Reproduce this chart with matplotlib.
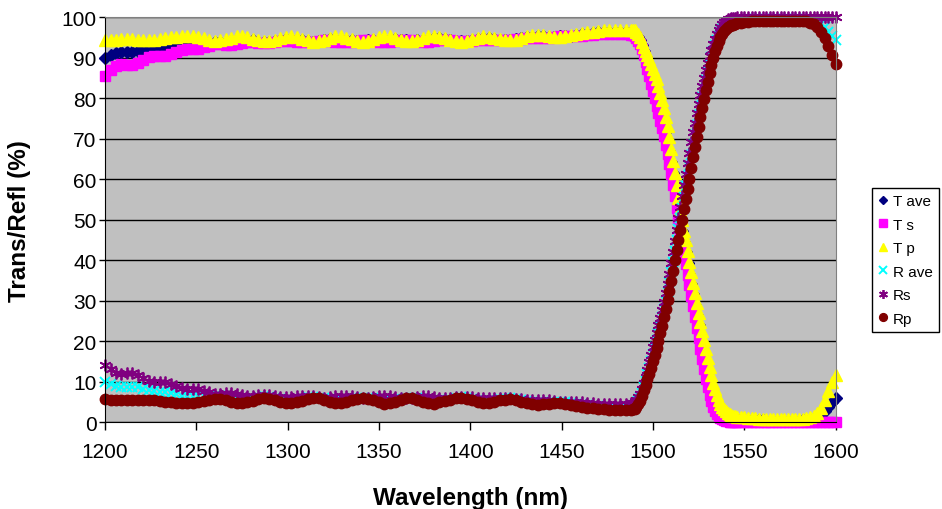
import numpy as np
import matplotlib
matplotlib.use("Agg")
import matplotlib.pyplot as plt

plt.rcParams['font.family'] = ['Liberation Sans', 'DejaVu Sans']

# wavelength grid (nm): coarse on the flat parts, 1 nm through the edge
wavelength = np.concatenate([np.arange(1200, 1489, 3),
                             np.arange(1489, 1547),
                             np.arange(1548, 1601, 2)])

t_ave = [90.0, 90.7, 91.3, 91.5, 91.5, 91.5, 91.6, 91.9, 92.3, 92.5,
         92.6, 92.7, 93.0, 93.4, 93.7, 93.8, 93.8, 93.7, 93.7, 93.7,
         93.8, 93.8, 93.9, 94.1, 94.4, 94.5, 94.5, 94.3, 94.0, 93.9,
         94.0, 94.2, 94.5, 94.7, 94.7, 94.5, 94.3, 94.1, 94.0, 94.2,
         94.4, 94.6, 94.7, 94.6, 94.4, 94.3, 94.2, 94.2, 94.3, 94.4,
         94.5, 94.7, 94.7, 94.6, 94.4, 94.3, 94.2, 94.3, 94.5, 94.7,
         94.8, 94.8, 94.7, 94.4, 94.2, 94.1, 94.2, 94.4, 94.7, 94.9,
         94.9, 94.7, 94.5, 94.4, 94.4, 94.6, 94.8, 95.1, 95.2, 95.3,
         95.3, 95.2, 95.2, 95.3, 95.4, 95.5, 95.7, 95.9, 96.0, 96.1,
         96.3, 96.4, 96.4, 96.5, 96.4, 96.4, 96.3,
         96.3, 96.1, 95.7, 95.1, 94.3, 93.1, 91.7, 90.3, 89.0, 87.7,
         86.1, 84.6, 83.0, 81.5, 79.7, 78.0, 76.1, 74.1, 72.0, 69.7,
         67.1, 64.4, 61.6, 58.7, 55.8, 52.8, 50.0, 47.3, 44.6, 42.0,
         39.4, 36.7, 34.1, 31.6, 29.0, 26.5, 24.0, 21.5, 19.1, 16.7,
         14.4, 12.3, 10.2, 8.4, 6.9, 5.6, 4.5, 3.6, 2.8, 2.3,
         1.9, 1.5, 1.3, 1.1, 1.0, 0.8, 0.8, 0.7,
         0.7, 0.6, 0.6, 0.5, 0.5, 0.5, 0.5, 0.4, 0.4, 0.4,
         0.4, 0.4, 0.4, 0.4, 0.4, 0.4, 0.4, 0.5, 0.5, 0.6,
         0.8, 1.1, 1.8, 2.8, 3.9, 5.0, 5.9]

t_s = [85.6, 87.0, 88.0, 88.4, 88.3, 88.3, 88.7, 89.4, 90.1, 90.5,
       90.5, 90.5, 90.9, 91.5, 92.0, 92.3, 92.3, 92.3, 92.6, 93.0,
       93.3, 93.3, 93.2, 93.2, 93.4, 93.7, 93.9, 93.9, 93.7, 93.6,
       93.7, 93.9, 94.1, 94.2, 94.1, 93.9, 93.8, 93.8, 94.0, 94.2,
       94.3, 94.2, 94.0, 93.8, 93.8, 94.0, 94.2, 94.3, 94.3, 94.1,
       93.9, 93.9, 94.0, 94.2, 94.4, 94.4, 94.3, 94.1, 94.0, 94.0,
       94.2, 94.4, 94.5, 94.4, 94.2, 94.1, 94.1, 94.2, 94.4, 94.5,
       94.5, 94.4, 94.3, 94.3, 94.4, 94.6, 94.7, 94.8, 94.8, 94.8,
       94.9, 95.0, 95.2, 95.3, 95.3, 95.3, 95.4, 95.5, 95.6, 95.7,
       95.8, 95.9, 95.9, 96.0, 95.9, 95.8, 95.7,
       95.6, 95.3, 94.8, 94.2, 93.4, 92.2, 90.7, 89.0, 87.3, 85.5,
       83.6, 81.8, 80.0, 78.2, 76.3, 74.5, 72.6, 70.6, 68.5, 66.2,
       63.8, 61.2, 58.6, 55.8, 53.0, 50.2, 47.4, 44.6, 41.8, 39.1,
       36.4, 33.8, 31.2, 28.6, 26.0, 23.4, 20.8, 18.2, 15.6, 13.1,
       10.8, 8.7, 6.8, 5.2, 3.9, 2.9, 2.1, 1.5, 1.0, 0.7,
       0.5, 0.3, 0.2, 0.1, 0.1, 0.0, 0.0, 0.0,
       0.0, 0.0, 0.0, 0.0, 0.0, 0.0, 0.0, 0.0, 0.0, 0.0,
       0.0, 0.0, 0.0, 0.0, 0.0, 0.0, 0.0, 0.0, 0.0, 0.0,
       0.0, 0.0, 0.0, 0.0, 0.0, 0.0, 0.0]

t_p = [94.3, 94.4, 94.5, 94.6, 94.6, 94.6, 94.5, 94.4, 94.4, 94.5,
       94.7, 94.9, 95.1, 95.2, 95.3, 95.3, 95.3, 95.1, 94.8, 94.4,
       94.2, 94.3, 94.6, 95.0, 95.3, 95.3, 95.1, 94.7, 94.3, 94.1,
       94.2, 94.5, 94.9, 95.2, 95.3, 95.1, 94.7, 94.3, 94.0, 94.1,
       94.4, 94.9, 95.3, 95.3, 95.0, 94.6, 94.2, 94.0, 94.2, 94.6,
       95.1, 95.4, 95.3, 94.9, 94.4, 94.1, 94.1, 94.5, 94.9, 95.3,
       95.4, 95.1, 94.8, 94.4, 94.1, 94.0, 94.2, 94.6, 95.0, 95.3,
       95.2, 94.9, 94.6, 94.4, 94.3, 94.5, 94.9, 95.3, 95.6, 95.7,
       95.6, 95.4, 95.2, 95.2, 95.4, 95.7, 96.0, 96.2, 96.4, 96.5,
       96.7, 96.8, 96.9, 96.9, 96.9, 96.9, 96.9,
       96.9, 96.8, 96.5, 96.0, 95.1, 93.9, 92.6, 91.6, 90.7, 89.8,
       88.6, 87.3, 86.0, 84.7, 83.1, 81.4, 79.6, 77.6, 75.5, 73.1,
       70.4, 67.6, 64.6, 61.6, 58.5, 55.4, 52.6, 49.9, 47.3, 44.9,
       42.3, 39.6, 37.0, 34.5, 32.0, 29.5, 27.1, 24.8, 22.5, 20.3,
       18.0, 15.8, 13.6, 11.6, 9.8, 8.2, 6.8, 5.6, 4.6, 3.8,
       3.2, 2.7, 2.3, 2.0, 1.8, 1.6, 1.5, 1.4,
       1.3, 1.2, 1.1, 1.0, 1.0, 0.9, 0.9, 0.8, 0.8, 0.8,
       0.8, 0.8, 0.8, 0.8, 0.8, 0.8, 0.8, 0.9, 1.0, 1.2,
       1.5, 2.2, 3.6, 5.5, 7.7, 9.9, 11.8]

r_ave = [10.0, 9.4, 8.9, 8.7, 8.8, 8.8, 8.6, 8.3, 8.0, 7.7,
         7.6, 7.5, 7.2, 6.9, 6.6, 6.4, 6.4, 6.5, 6.5, 6.5,
         6.5, 6.4, 6.3, 6.1, 5.9, 5.7, 5.7, 5.9, 6.2, 6.4,
         6.3, 6.0, 5.7, 5.5, 5.5, 5.7, 6.0, 6.2, 6.2, 6.1,
         5.9, 5.7, 5.6, 5.7, 5.8, 5.9, 6.0, 6.1, 6.0, 5.9,
         5.7, 5.6, 5.6, 5.7, 5.8, 6.0, 6.0, 5.9, 5.8, 5.6,
         5.4, 5.5, 5.6, 5.8, 6.1, 6.2, 6.1, 5.8, 5.5, 5.3,
         5.4, 5.6, 5.8, 5.9, 5.9, 5.7, 5.4, 5.2, 5.0, 5.0,
         5.0, 5.0, 5.0, 5.0, 4.9, 4.7, 4.5, 4.4, 4.2, 4.1,
         4.0, 3.9, 3.8, 3.8, 3.8, 3.9, 3.9,
         4.0, 4.3, 4.7, 5.3, 6.2, 7.3, 8.8, 10.3, 11.9, 13.4,
         15.1, 16.8, 18.5, 20.3, 22.1, 23.9, 25.9, 27.9, 30.0, 32.2,
         34.6, 37.1, 39.7, 42.4, 45.1, 47.7, 50.4, 53.0, 55.7, 58.3,
         60.8, 63.4, 66.0, 68.5, 71.0, 73.4, 75.8, 78.1, 80.3, 82.4,
         84.5, 86.4, 88.3, 90.1, 91.7, 93.2, 94.4, 95.5, 96.4, 97.2,
         97.7, 98.2, 98.5, 98.8, 98.9, 99.1, 99.2, 99.3,
         99.3, 99.4, 99.5, 99.5, 99.6, 99.6, 99.6, 99.6, 99.6, 99.6,
         99.6, 99.6, 99.6, 99.6, 99.6, 99.6, 99.6, 99.6, 99.5, 99.4,
         99.2, 98.8, 98.3, 97.5, 96.5, 95.4, 94.3]

r_s = [14.2, 13.2, 12.2, 12.0, 12.1, 12.1, 11.7, 11.0, 10.3, 9.9,
       9.9, 9.9, 9.5, 8.9, 8.4, 8.1, 8.1, 8.1, 7.8, 7.4,
       7.1, 7.1, 7.2, 7.2, 7.0, 6.7, 6.5, 6.5, 6.7, 6.8,
       6.7, 6.5, 6.3, 6.2, 6.3, 6.5, 6.6, 6.6, 6.4, 6.2,
       6.1, 6.2, 6.4, 6.6, 6.6, 6.4, 6.2, 6.1, 6.1, 6.3,
       6.5, 6.5, 6.4, 6.2, 6.0, 6.0, 6.1, 6.3, 6.4, 6.4,
       6.2, 6.0, 5.9, 6.0, 6.2, 6.3, 6.3, 6.2, 6.0, 5.9,
       5.9, 6.0, 6.1, 6.1, 6.0, 5.8, 5.7, 5.6, 5.6, 5.6,
       5.5, 5.4, 5.2, 5.1, 5.1, 5.1, 5.0, 4.9, 4.8, 4.7,
       4.6, 4.5, 4.5, 4.4, 4.5, 4.6, 4.7,
       4.8, 5.1, 5.6, 6.2, 7.0, 8.1, 9.6, 11.3, 13.0, 14.8,
       16.7, 18.5, 20.3, 22.1, 24.0, 25.8, 27.8, 29.8, 31.9, 34.2,
       36.7, 39.3, 42.0, 44.8, 47.6, 50.4, 53.2, 56.0, 58.7, 61.4,
       64.0, 66.6, 69.1, 71.6, 74.0, 76.4, 78.7, 80.9, 83.0, 85.0,
       86.9, 88.7, 90.4, 92.0, 93.4, 94.7, 95.8, 96.8, 97.6, 98.3,
       98.8, 99.2, 99.5, 99.7, 99.8, 99.9, 99.9, 100.0,
       100.0, 100.0, 100.0, 100.0, 100.0, 100.0, 100.0, 100.0, 100.0, 100.0,
       100.0, 100.0, 100.0, 100.0, 100.0, 100.0, 100.0, 100.0, 100.0, 100.0,
       100.0, 100.0, 100.0, 100.0, 100.0, 100.0, 100.0]

r_p = [5.7, 5.6, 5.5, 5.4, 5.4, 5.4, 5.5, 5.6, 5.6, 5.5,
       5.3, 5.1, 4.9, 4.8, 4.7, 4.7, 4.7, 4.9, 5.2, 5.6,
       5.8, 5.7, 5.4, 5.0, 4.7, 4.7, 4.9, 5.3, 5.7, 5.9,
       5.8, 5.5, 5.1, 4.8, 4.7, 4.9, 5.3, 5.7, 6.0, 5.9,
       5.6, 5.1, 4.7, 4.7, 5.0, 5.4, 5.8, 6.0, 5.8, 5.4,
       4.9, 4.6, 4.7, 5.1, 5.6, 5.9, 5.9, 5.5, 5.1, 4.7,
       4.6, 4.9, 5.2, 5.6, 5.9, 6.0, 5.8, 5.4, 5.0, 4.7,
       4.8, 5.1, 5.4, 5.6, 5.7, 5.5, 5.1, 4.7, 4.4, 4.3,
       4.4, 4.6, 4.8, 4.8, 4.6, 4.3, 4.0, 3.8, 3.6, 3.5,
       3.3, 3.2, 3.1, 3.1, 3.1, 3.1, 3.1,
       3.2, 3.4, 3.8, 4.4, 5.3, 6.5, 7.9, 9.3, 10.7, 12.0,
       13.5, 15.1, 16.7, 18.4, 20.2, 22.0, 23.9, 25.9, 28.0, 30.2,
       32.4, 34.9, 37.4, 40.0, 42.5, 45.0, 47.5, 50.0, 52.6, 55.1,
       57.6, 60.2, 62.8, 65.4, 67.9, 70.4, 72.9, 75.3, 77.6, 79.8,
       82.0, 84.1, 86.2, 88.2, 90.0, 91.6, 93.0, 94.2, 95.2, 96.0,
       96.6, 97.1, 97.5, 97.8, 98.0, 98.2, 98.4, 98.5,
       98.6, 98.8, 98.9, 99.0, 99.1, 99.2, 99.2, 99.2, 99.2, 99.2,
       99.2, 99.2, 99.2, 99.2, 99.2, 99.1, 99.1, 99.1, 99.0, 98.7,
       98.3, 97.6, 96.5, 94.9, 93.0, 90.8, 88.5]

fig = plt.figure(figsize=(9.42, 5.10), dpi=100)
ax = fig.add_axes([0.1115, 0.170, 0.7755, 0.794])
ax.set_facecolor('#C0C0C0')

# Excel-like scatter: markers only, drawn in series order
ax.plot(wavelength, t_ave, ls='none', marker='D', ms=6, color='#000080', label='T ave', clip_on=False)
ax.plot(wavelength, t_s, ls='none', marker='s', ms=7, color='#FF00FF', label='T s', clip_on=False)
ax.plot(wavelength, t_p, ls='none', marker='^', ms=8.5, color='#FFFF00', label='T p', clip_on=False)
ax.plot(wavelength, r_ave, ls='none', marker='x', ms=7, mew=1.4, color='#00FFFF', label='R ave', clip_on=False)
ax.plot(wavelength, r_s, ls='none', marker=(6, 2, 0), ms=8.5, mew=1.3, color='#800080', label='Rs', clip_on=False)
ax.plot(wavelength, r_p, ls='none', marker='o', ms=7.5, color='#800000', label='Rp', clip_on=False)

ax.set_xlim(1200, 1600)
ax.set_ylim(0, 100)
ax.set_xticks(np.arange(1200, 1601, 50))
ax.set_yticks(np.arange(0, 101, 10))
ax.yaxis.grid(True, color='black', linewidth=1)
ax.set_axisbelow(True)

for side in ['top', 'right']:
    ax.spines[side].set_color('#808080')
for side in ['left', 'bottom']:
    ax.spines[side].set_color('black')
ax.tick_params(axis='x', direction='out', length=6, width=1, labelsize=15, pad=8)
ax.tick_params(axis='y', direction='out', length=4, width=1, labelsize=15, pad=2)

ax.set_xlabel('Wavelength (nm)', fontsize=17.5, fontweight='bold', labelpad=18)
ax.set_ylabel('Trans/Refl (%)', fontsize=17.5, fontweight='bold', labelpad=22)

leg = fig.legend(loc='upper left', bbox_to_anchor=(0.926, 0.629), fontsize=11,
                 frameon=True, fancybox=False, edgecolor='black', framealpha=1,
                 handlelength=0.6, handletextpad=0.35, labelspacing=0.62,
                 borderpad=0.4, borderaxespad=0, markerscale=0.75)
leg.get_frame().set_linewidth(1)

plt.savefig('out.png', dpi=100)
